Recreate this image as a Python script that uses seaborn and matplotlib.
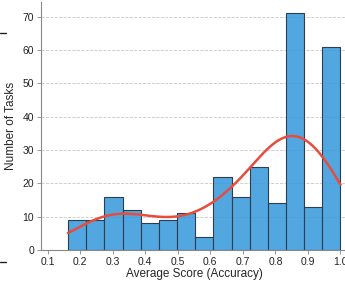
import numpy as np
import pandas as pd
import seaborn as sns
from matplotlib import pyplot as plt
from matplotlib.lines import Line2D

# score read at the middle of each bar, and the number of tasks in that bar
bin_scores = [0.19, 0.25, 0.30, 0.36, 0.41, 0.47, 0.53, 0.58,
              0.64, 0.69, 0.75, 0.81, 0.835, 0.92, 0.96]
task_counts = [9, 9, 16, 12, 8, 9, 11, 4, 22, 16, 25, 14, 71, 13, 61]
x_ticks = [0.1, 0.2, 0.3, 0.4, 0.5, 0.6, 0.7, 0.8, 0.9, 1.0]
y_ticks = [0, 10, 20, 30, 40, 50, 60, 70]

score_min, score_max = 0.163, 1.0

# one row per task
df = pd.DataFrame({"score": np.repeat(bin_scores, task_counts)})

sns.set_style("ticks")
plt.rcParams["font.family"] = ["Liberation Sans", "DejaVu Sans"]

fig = plt.figure(figsize=(3.45, 2.85), dpi=100)
ax = fig.add_axes([41 / 345, 35 / 285, 306 / 345, 248.5 / 285])

# let the kde reach the outer bar edges
bw_adjust = 1.25
bw = df["score"].std() * len(df) ** (-0.2) * bw_adjust
cut = 0.04 / bw

sns.histplot(
    data=df,
    x="score",
    bins=15,
    binrange=(score_min, score_max),
    color="#3498db",
    edgecolor="#2c3e50",
    linewidth=0.8,
    alpha=0.85,
    kde=True,
    kde_kws={"cut": cut, "clip": (score_min, score_max), "bw_adjust": bw_adjust},
    line_kws={"linewidth": 1.8},
    ax=ax,
    zorder=2,
)
ax.lines[0].set_color("#e74c3c")

ax.set_xlim(0.08, 1.02)
ax.set_ylim(0, 74.55)
ax.set_xticks(x_ticks)
ax.set_xticklabels([f"{t:.1f}" for t in x_ticks])
ax.set_yticks(y_ticks)

ax.yaxis.grid(True, linestyle="--", color="#c8c8c8", linewidth=0.6)
ax.set_axisbelow(True)

for side in ["top", "right"]:
    ax.spines[side].set_visible(False)
for side in ["left", "bottom"]:
    ax.spines[side].set_color("#888888")
    ax.spines[side].set_linewidth(0.8)

ax.tick_params(axis="both", labelsize=7.5, length=3, width=0.6,
               color="#888888", labelcolor="#222222", pad=2)
ax.set_xlabel("Average Score (Accuracy)", fontsize=8.5, labelpad=1)
ax.set_ylabel("Number of Tasks", fontsize=8.5, labelpad=4)

# bits of the neighbouring panel at the left edge
for yy in [1 - 33 / 285, 1 - 262 / 285]:
    fig.add_artist(Line2D([0, 6 / 345], [yy, yy], color="#222222", linewidth=1))

plt.savefig("out.png", dpi=100)
